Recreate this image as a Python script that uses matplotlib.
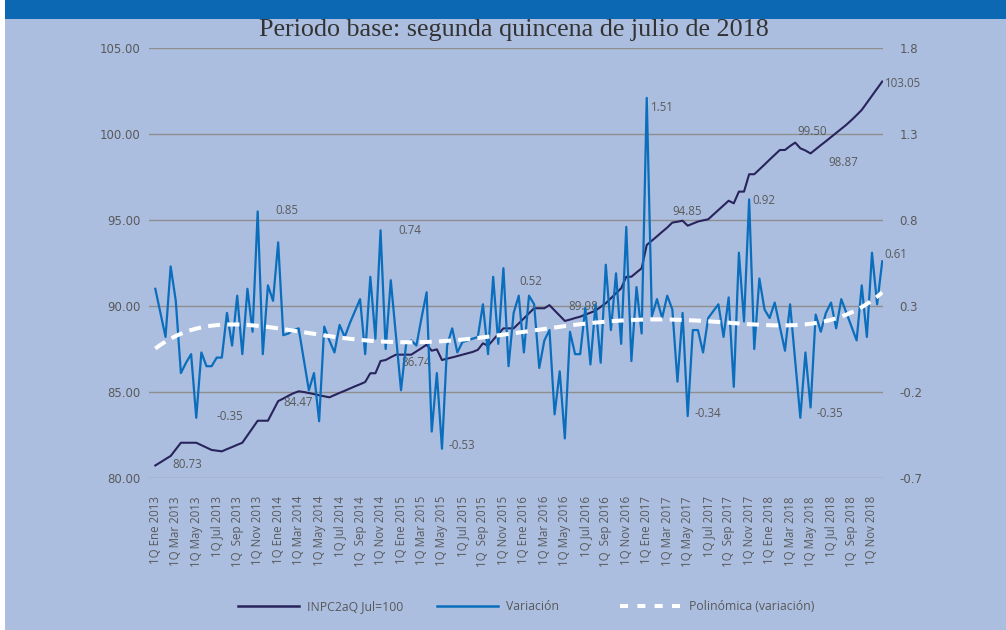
import matplotlib
matplotlib.use("Agg")
import matplotlib.pyplot as plt
import numpy as np
from matplotlib.lines import Line2D
from matplotlib.patches import Rectangle
from matplotlib.ticker import FormatStrFormatter, FixedLocator

# ---------------- data ----------------
years = [2013, 2014, 2015, 2016, 2017, 2018]
months = ["Ene", "Mar", "May", "Jul", "Sep", "Nov"]
tick_labels = [f"1Q {' ' if m == 'Sep' else ''}{m} {y}" for y in years for m in months]

inpc = [80.73, 80.91, 81.10, 81.28, 81.66, 82.05, 82.05, 82.05, 82.05, 81.91,
        81.77, 81.63, 81.59, 81.55, 81.68, 81.80, 81.93, 82.05, 82.48, 82.90,
        83.33, 83.33, 83.33, 83.90, 84.47, 84.62, 84.78, 84.93, 85.04, 85.00,
        84.94, 84.88, 84.81, 84.75, 84.69, 84.82, 84.95, 85.07, 85.20, 85.33,
        85.45, 85.58, 86.09, 86.09, 86.80, 86.86, 87.02, 87.17, 87.17, 87.17,
        87.17, 87.36, 87.55, 87.75, 87.40, 87.48, 86.86, 86.94, 87.01, 87.09,
        87.17, 87.25, 87.33, 87.45, 87.83, 87.69, 88.03, 88.37, 88.70, 88.70,
        88.70, 88.99, 89.28, 89.58, 89.87, 89.87, 89.87, 90.05, 89.74, 89.44,
        89.13, 89.21, 89.30, 89.38, 89.50, 89.61, 89.73, 89.95, 90.16, 90.45,
        90.74, 91.03, 91.70, 91.70, 91.95, 92.19, 93.55, 93.80, 94.05, 94.31,
        94.56, 94.85, 94.90, 94.96, 94.67, 94.79, 94.91, 94.98, 95.04, 95.31,
        95.58, 95.85, 96.12, 95.97, 96.65, 96.65, 97.66, 97.66, 97.94, 98.22,
        98.51, 98.79, 99.07, 99.07, 99.30, 99.50, 99.17, 99.04, 98.87, 99.11,
        99.35, 99.58, 99.82, 100.06, 100.30, 100.54, 100.81, 101.10, 101.40, 101.81,
        102.22, 102.64, 103.05]

variacion = [0.40, 0.26, 0.12, 0.53, 0.33, -0.09, -0.03, 0.02, -0.35, 0.03,
             -0.05, -0.05, 0.00, 0.00, 0.26, 0.07, 0.36, 0.02, 0.40, 0.15,
             0.85, 0.02, 0.42, 0.33, 0.67, 0.13, 0.14, 0.16, 0.17, -0.01,
             -0.19, -0.09, -0.37, 0.18, 0.10, 0.03, 0.19, 0.12, 0.20, 0.27,
             0.34, 0.02, 0.47, 0.11, 0.74, 0.05, 0.45, 0.13, -0.19, 0.08,
             0.10, 0.07, 0.23, 0.38, -0.43, -0.09, -0.53, 0.07, 0.17, 0.03,
             0.09, 0.10, 0.11, 0.12, 0.31, 0.02, 0.47, 0.08, 0.52, -0.05,
             0.26, 0.36, 0.03, 0.36, 0.31, -0.06, 0.10, 0.16, -0.33, -0.08,
             -0.47, 0.15, 0.02, 0.02, 0.29, -0.04, 0.31, -0.03, 0.54, 0.16,
             0.49, 0.08, 0.76, -0.02, 0.41, 0.14, 1.51, 0.24, 0.34, 0.23,
             0.36, 0.28, -0.14, 0.26, -0.34, 0.16, 0.16, 0.03, 0.23, 0.27,
             0.31, 0.12, 0.35, -0.17, 0.61, 0.21, 0.92, 0.05, 0.46, 0.28,
             0.23, 0.32, 0.18, 0.04, 0.31, -0.02, -0.35, 0.03, -0.29, 0.25,
             0.15, 0.26, 0.32, 0.17, 0.34, 0.26, 0.18, 0.10, 0.42, 0.12,
             0.61, 0.31, 0.56]

# polynomial trendline of the variation at these categories
trend_idx = [0, 6, 13, 20, 28, 33, 42, 49, 56, 62, 67, 75, 83, 89, 96, 102,
             109, 115, 122, 128, 135, 141, 142]
trend_val = [0.054, 0.151, 0.184, 0.180, 0.170, 0.131, 0.089, 0.083, 0.092, 0.118,
             0.131, 0.160, 0.195, 0.213, 0.222, 0.222, 0.209, 0.194, 0.180, 0.200,
             0.258, 0.345, 0.383]

inpc_labels = ["80.73", "84.47", "86.74", "89.98", "94.85", "99.50", "98.87", "103.05"]
var_labels = ["0.85", "-0.35", "0.74", "-0.53", "0.52", "1.51", "-0.34", "0.92", "-0.35", "0.61"]

# ---------------- layout / style ----------------
W, H = 1006, 630
BG = "#ABBEE0"
NAVY = "#29235C"
BLUE = "#0A6EBD"
GRID = "#8E8E8E"
TXT = "#595959"

# label placement (x in category units, y in axis units) -- layout only
inpc_label_pos = [(3.4, 80.81), (25.1, 84.38), (48.0, 86.69), (80.6, 90.0),
                  (101.1, 95.52), (125.5, 100.17), (131.4, 98.33), (142.5, 102.95)]
var_label_pos = [(23.4, 0.854), (12.0, -0.344), (47.5, 0.738), (57.2, -0.512),
                 (71.1, 0.441), (96.9, 1.455), (105.4, -0.324), (116.7, 0.916),
                 (129.2, -0.324), (142.5, 0.597)]

fig = plt.figure(figsize=(W / 100, H / 100), dpi=100)
fig.patch.set_facecolor(BG)
fig.add_artist(Rectangle((0, 0), 5 / W, 1, transform=fig.transFigure,
                         facecolor="white", edgecolor="none", zorder=0))
fig.add_artist(Rectangle((5 / W, 1 - 19 / H), 1, 19 / H, transform=fig.transFigure,
                         facecolor="#0C68B2", edgecolor="none", zorder=0))

ax = fig.add_axes([149 / W, 1 - 478 / H, (883 - 149) / W, (478 - 48) / H])
ax.set_facecolor("none")
x = np.arange(len(inpc))
xv = np.arange(len(variacion))

ax.plot(x, inpc, color=NAVY, lw=1.5, zorder=3)
ax.set_ylim(80, 105)
ax.yaxis.set_major_locator(FixedLocator([80, 85, 90, 95, 100, 105]))
ax.yaxis.set_major_formatter(FormatStrFormatter("%.2f"))
ax.grid(axis="y", color=GRID, lw=1.0, zorder=0)
ax.set_axisbelow(True)
ax.set_xlim(-1.23, 142.15)
ax.set_xticks(np.arange(0, len(tick_labels) * 4, 4))
ax.set_xticklabels(tick_labels, rotation=90, fontsize=8.3, color=TXT, family="Open Sans")
ax.tick_params(axis="x", length=0, pad=13)
ax.tick_params(axis="y", length=0, pad=6, labelsize=8.5, labelcolor=TXT)
for lab in ax.get_yticklabels():
    lab.set_family("DejaVu Sans")
for s in ax.spines.values():
    s.set_visible(False)

ax2 = ax.twinx()
ax2.plot(xv, variacion, color=BLUE, lw=1.6, zorder=3)
trend = np.polynomial.Polynomial.fit(trend_idx, trend_val, 6)
ax2.plot(xv, trend(xv), color="white", lw=2.9, dashes=(3, 1.8), zorder=4)
ax2.set_ylim(-0.7, 1.8)
ax2.yaxis.set_major_locator(FixedLocator([-0.7, -0.2, 0.3, 0.8, 1.3, 1.8]))
ax2.yaxis.set_major_formatter(FormatStrFormatter("%.1f"))
ax2.tick_params(axis="y", length=0, pad=12, labelsize=8.5, labelcolor=TXT)
for lab in ax2.get_yticklabels():
    lab.set_family("DejaVu Sans")
for s in ax2.spines.values():
    s.set_visible(False)

for t, (px, py) in zip(inpc_labels, inpc_label_pos):
    ax.text(px, py, t, ha="left", va="center", fontsize=8.3, color=TXT,
            family="Open Sans", zorder=5)
for t, (px, py) in zip(var_labels, var_label_pos):
    ax2.text(px, py, t, ha="left", va="center", fontsize=8.3, color=TXT,
             family="Open Sans", zorder=5)

fig.text(514 / W, 1 - 30 / H, "Periodo base: segunda quincena de julio de 2018",
         ha="center", va="center", fontsize=18.8, family="Liberation Serif", color="#333333")

# legends (three separate entries as in the original)
entries = [
    (Line2D([], [], color=NAVY, lw=1.8), "INPC2aQ Jul=100", 238),
    (Line2D([], [], color=BLUE, lw=1.8), "Variación", 437),
    (Line2D([], [], color="white", lw=2.9, dashes=(2, 2.3)), "Polinómica (variación)", 620),
]
for h, lbl, xp in entries:
    lg = fig.legend([h], [lbl], loc="center left", bbox_to_anchor=(xp / W, 1 - 607 / H),
                    frameon=False, borderpad=0, borderaxespad=0, handlelength=5.0,
                    handletextpad=0.68, prop={"family": "Open Sans", "size": 8.8})
    for t in lg.get_texts():
        t.set_color(TXT)

fig.savefig("out.png", dpi=100, facecolor=fig.get_facecolor())
